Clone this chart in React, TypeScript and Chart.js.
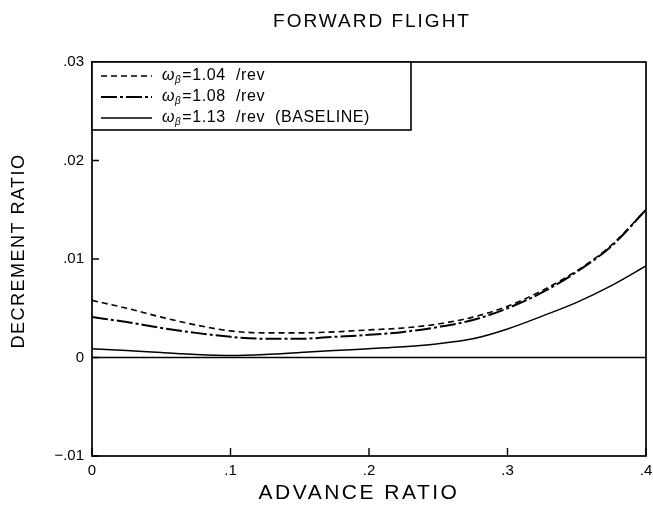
import React, { useEffect, useRef } from "react";
import { Chart, registerables } from "chart.js";

Chart.register(...registerables);

const advanceRatio = [0, 0.025, 0.05, 0.075, 0.1, 0.125, 0.15, 0.175, 0.2, 0.225, 0.25, 0.275, 0.3, 0.325, 0.35, 0.375, 0.4];
const decrement104 = [0.0058, 0.005, 0.0041, 0.0033, 0.0027, 0.0025, 0.0025, 0.0026, 0.0028, 0.003, 0.0034, 0.0041, 0.0052, 0.0068, 0.0088, 0.0114, 0.015];
const decrement108 = [0.0041, 0.0036, 0.003, 0.0025, 0.0021, 0.0019, 0.0019, 0.0021, 0.0023, 0.0026, 0.0031, 0.0038, 0.005, 0.0066, 0.0087, 0.0113, 0.015];
const decrement113 = [0.0009, 0.0007, 0.0005, 0.0003, 0.0002, 0.0003, 0.0005, 0.0007, 0.0009, 0.0011, 0.0014, 0.0019, 0.0029, 0.0042, 0.0056, 0.0073, 0.0093];
const seriesNames = ["ωβ=1.04  /rev", "ωβ=1.08  /rev", "ωβ=1.13  /rev  (BASELINE)"];
const zeroLineX = [0, 0.4];
const zeroLineY = [0, 0];

const xTicks = [0, 0.1, 0.2, 0.3, 0.4];
const xTickLabels = ["0", ".1", ".2", ".3", ".4"];
const yTicks = [-0.01, 0, 0.01, 0.02, 0.03];
const yTickLabels = ["−.01", "0", ".01", ".02", ".03"];

const chartTitle = "FORWARD FLIGHT";
const xTitle = "ADVANCE RATIO";
const yTitle = "DECREMENT RATIO";

const FONT = "'Liberation Sans', Arial, sans-serif";

const dashes = [[6, 4], [16, 3, 3, 3], []];
const widths = [1.6, 2.0, 1.5];

const labelFor = (vals: number[], labels: string[]) => (v: number | string) => {
  const i = vals.findIndex((t) => Math.abs(t - Number(v)) < 1e-9);
  return i >= 0 ? labels[i] : "";
};

const decorPlugin = {
  id: "decor",
  afterDraw(chart: any) {
    const { ctx, chartArea: a, scales } = chart;
    const xs = scales.x;
    const ys = scales.y;
    ctx.save();
    // frame
    ctx.strokeStyle = "#000";
    ctx.lineWidth = 1.7;
    ctx.setLineDash([]);
    ctx.strokeRect(a.left, a.top, a.right - a.left, a.bottom - a.top);
    // inward ticks
    ctx.lineWidth = 1.4;
    ctx.beginPath();
    xTicks.forEach((v) => {
      const px = xs.getPixelForValue(v);
      ctx.moveTo(px, a.bottom);
      ctx.lineTo(px, a.bottom - 8);
    });
    yTicks.forEach((v) => {
      const py = ys.getPixelForValue(v);
      ctx.moveTo(a.left, py);
      ctx.lineTo(a.left + 7, py);
    });
    ctx.stroke();

    // titles
    ctx.fillStyle = "#000";
    ctx.textAlign = "center";
    ctx.textBaseline = "middle";
    (ctx as any).letterSpacing = "2px";
    ctx.font = `19px ${FONT}`;
    ctx.fillText(chartTitle, 372, 22);
    (ctx as any).letterSpacing = "2.5px";
    ctx.font = `21px ${FONT}`;
    ctx.fillText(xTitle, 359, 493);
    (ctx as any).letterSpacing = "1.5px";
    ctx.font = `18px ${FONT}`;
    ctx.save();
    ctx.translate(19, 251);
    ctx.rotate(-Math.PI / 2);
    ctx.fillText(yTitle, 0, 0);
    ctx.restore();
    (ctx as any).letterSpacing = "0px";

    // legend box
    const bx = a.left;
    const by = a.top;
    const bw = 411 - a.left;
    const bh = 130 - a.top;
    ctx.fillStyle = "#fff";
    ctx.fillRect(bx, by, bw, bh);
    ctx.lineWidth = 1.6;
    ctx.strokeRect(bx, by, bw, bh);
    const rows = [76, 97, 118];
    chart.data.datasets.slice(0, 3).forEach((ds: any, i: number) => {
      const y = rows[i];
      ctx.strokeStyle = "#000";
      ctx.lineWidth = widths[i];
      ctx.setLineDash(dashes[i]);
      ctx.beginPath();
      ctx.moveTo(101, y);
      ctx.lineTo(152, y);
      ctx.stroke();
      ctx.setLineDash([]);
      const label: string = ds.label;
      ctx.fillStyle = "#000";
      ctx.textAlign = "left";
      ctx.textBaseline = "middle";
      (ctx as any).letterSpacing = "0.6px";
      let x = 162;
      ctx.font = `italic 16px ${FONT}`;
      const w0 = label.charAt(0);
      ctx.fillText(w0, x, y);
      x += ctx.measureText(w0).width;
      ctx.font = `italic 10px ${FONT}`;
      const sub = label.charAt(1);
      ctx.fillText(sub, x, y + 4);
      x += ctx.measureText(sub).width + 1;
      ctx.font = `16px ${FONT}`;
      ctx.fillText(label.slice(2), x, y);
      (ctx as any).letterSpacing = "0px";
    });
    ctx.restore();
  },
};

export default function App() {
  const ref = useRef<HTMLCanvasElement | null>(null);
  useEffect(() => {
    if (!ref.current) return;
    const mk = (ys: number[]) => advanceRatio.map((x, i) => ({ x, y: ys[i] }));
    const chart = new Chart(ref.current, {
      type: "line",
      data: {
        datasets: [
          { label: seriesNames[0], data: mk(decrement104), borderColor: "#000", borderWidth: widths[0], borderDash: dashes[0], pointRadius: 0, cubicInterpolationMode: "monotone", fill: false },
          { label: seriesNames[1], data: mk(decrement108), borderColor: "#000", borderWidth: widths[1], borderDash: dashes[1], pointRadius: 0, cubicInterpolationMode: "monotone", fill: false },
          { label: seriesNames[2], data: mk(decrement113), borderColor: "#000", borderWidth: widths[2], pointRadius: 0, cubicInterpolationMode: "monotone", fill: false },
          { label: "zero", data: zeroLineX.map((x, i) => ({ x, y: zeroLineY[i] })), borderColor: "#000", borderWidth: 1.3, pointRadius: 0, fill: false },
        ],
      } as any,
      options: {
        animation: false,
        responsive: false,
        maintainAspectRatio: false,
        layout: { padding: { top: 62, right: 7, left: 0, bottom: 0 } },
        plugins: { legend: { display: false }, title: { display: false }, tooltip: { enabled: false } },
        scales: {
          x: {
            type: "linear",
            min: 0,
            max: 0.4,
            afterBuildTicks: (s: any) => { s.ticks = xTicks.map((v) => ({ value: v })); },
            afterFit: (s: any) => { s.height = 53; s.paddingRight = 0; s.paddingLeft = 0; },
            grid: { display: false, drawTicks: false },
            border: { display: false },
            ticks: { color: "#000", font: { family: FONT, size: 15 }, padding: 6, maxRotation: 0, callback: labelFor(xTicks, xTickLabels) as any },
          },
          y: {
            type: "linear",
            min: -0.01,
            max: 0.03,
            afterBuildTicks: (s: any) => { s.ticks = yTicks.map((v) => ({ value: v })); },
            afterFit: (s: any) => { s.width = 92; s.paddingTop = 0; s.paddingBottom = 0; },
            grid: { display: false, drawTicks: false },
            border: { display: false },
            ticks: { color: "#000", font: { family: FONT, size: 15 }, padding: 8, callback: labelFor(yTicks, yTickLabels) as any },
          },
        },
      } as any,
      plugins: [decorPlugin],
    });
    return () => chart.destroy();
  }, []);
  return (
    <div style={{ position: "fixed", left: 0, top: 0, width: 653, height: 509, background: "#fff" }}>
      <canvas ref={ref} width={653} height={509} style={{ display: "block" }} />
    </div>
  );
}
